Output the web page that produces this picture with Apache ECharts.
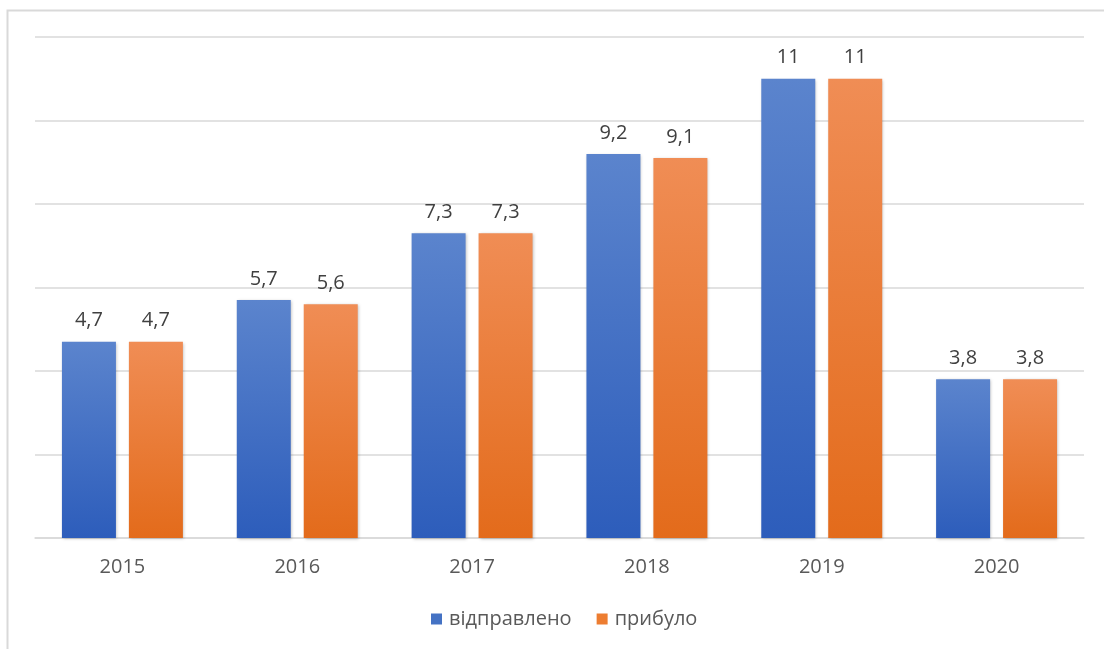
<!DOCTYPE html>
<html><head><meta charset="utf-8">
<script src="https://cdn.jsdelivr.net/npm/echarts@6/dist/echarts.min.js"></script>
<style>html,body{margin:0;padding:0;background:#fff}#c{width:1104px;height:649px}</style>
</head><body><div id="c"></div>
<script>
const categories = ['2015','2016','2017','2018','2019','2020'];
const sentValues = [4.7, 5.7, 7.3, 9.2, 11, 3.8];
const arrivedValues = [4.7, 5.6, 7.3, 9.1, 11, 3.8];
const seriesNames = ['відправлено', 'прибуло'];

const chart = echarts.init(document.getElementById('c'));
const fontFam = '"Open Sans", "Noto Sans", sans-serif';
function grad(top, bottom){
  return new echarts.graphic.LinearGradient(0,0,0,1,[{offset:0,color:top},{offset:1,color:bottom}]);
}
const lbl = {show:true, position:'top', distance:11, color:'#404040', fontSize:20, fontFamily:fontFam,
  formatter: p => String(p.value).replace('.', ',')};
chart.setOption({
  animation:false,
  graphic:[{type:'rect', shape:{x:7.5,y:10.5,width:1110,height:660}, style:{fill:'none', stroke:'#d9d9d9', lineWidth:2}, silent:true}],
  grid:{left:35, right:20, top:37, bottom:111},
  legend:{bottom:15, left:426, itemWidth:11, itemHeight:11, itemGap:25, icon:'rect',
    textStyle:{color:'#595959', fontSize:20, fontFamily:fontFam, padding:[0,0,0,2]}},
  xAxis:{type:'category', data:categories, axisTick:{show:false},
    axisLine:{lineStyle:{color:'#d9d9d9', width:1.5}},
    axisLabel:{color:'#595959', fontSize:20, fontFamily:fontFam, margin:19}},
  yAxis:{type:'value', min:0, max:12, interval:2, axisLabel:{show:false},
    splitLine:{lineStyle:{color:'#d9d9d9', width:1.5}}},
  series:[
    {name:seriesNames[0], type:'bar', data:sentValues, barWidth:54, barGap:'24%',
      itemStyle:{color:grad('#5b84cd','#2d5dbb'), shadowColor:'rgba(0,0,0,0.25)', shadowBlur:3, shadowOffsetX:1, shadowOffsetY:1},
      label:lbl},
    {name:seriesNames[1], type:'bar', data:arrivedValues, barWidth:54,
      itemStyle:{color:grad('#f08d55','#e36b1b'), shadowColor:'rgba(0,0,0,0.25)', shadowBlur:3, shadowOffsetX:1, shadowOffsetY:1},
      label:lbl}
  ]
});
chart.setOption({legend:{data:[{name:seriesNames[0], itemStyle:{color:'#4472c4', shadowBlur:0}},{name:seriesNames[1], itemStyle:{color:'#ed7d31', shadowBlur:0}}]}});
</script></body></html>
